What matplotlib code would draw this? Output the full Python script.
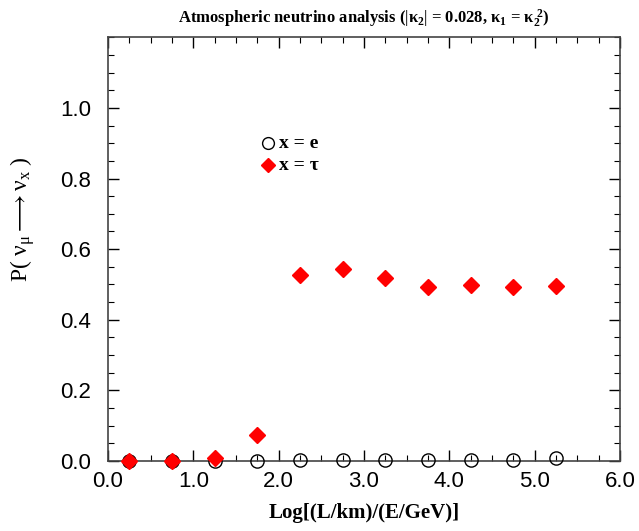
import matplotlib
matplotlib.use("Agg")
import matplotlib.pyplot as plt
from matplotlib.ticker import MultipleLocator, FormatStrFormatter

x_vals = [0.25, 0.75, 1.25, 1.75, 2.25, 2.75, 3.25, 3.75, 4.25, 4.75, 5.25]
p_e = [0.0, 0.0, 0.0, 0.0, 0.003, 0.003, 0.003, 0.003, 0.003, 0.003, 0.008]
p_tau = [0.0, 0.0, 0.007, 0.072, 0.527, 0.543, 0.518, 0.493, 0.497, 0.493, 0.495]
legend_labels = ["x = e", "x = τ"]

plt.rcParams["mathtext.fontset"] = "custom"
plt.rcParams["mathtext.rm"] = "Liberation Serif"
plt.rcParams["mathtext.it"] = "Liberation Serif:italic"
plt.rcParams["mathtext.bf"] = "Liberation Serif:bold"

fig = plt.figure(figsize=(6.39, 5.31), dpi=100)
ax = fig.add_axes([0.169, 0.132, 0.801, 0.7976])

ax.plot(x_vals, p_e, linestyle="none", marker="o", markersize=9.5,
        markerfacecolor="none", markeredgecolor="black", markeredgewidth=1.0,
        zorder=4, clip_on=False)
ax.plot(x_vals, p_tau, linestyle="none", marker="D", markersize=8,
        color="red", markeredgecolor="red", zorder=5, clip_on=False)

ax.set_xlim(0, 6)
ax.set_ylim(0, 1.2)
ax.xaxis.set_major_locator(MultipleLocator(1.0))
ax.xaxis.set_minor_locator(MultipleLocator(0.25))
ax.set_yticks([0.0, 0.2, 0.4, 0.6, 0.8, 1.0])
ax.yaxis.set_minor_locator(MultipleLocator(0.05))
ax.set_ylim(0, 1.2)
ax.xaxis.set_major_formatter(FormatStrFormatter("%.1f"))
ax.yaxis.set_major_formatter(FormatStrFormatter("%.1f"))
ax.tick_params(which="both", direction="in", top=True, right=True)
ax.tick_params(which="major", length=8, width=1.0, labelsize=16)
ax.tick_params(axis="y", which="major", pad=12)
ax.tick_params(axis="x", which="major", pad=7)
ax.tick_params(which="minor", length=4, width=0.8)
for lab in ax.get_xticklabels() + ax.get_yticklabels():
    lab.set_family("Liberation Sans")
for s in ax.spines.values():
    s.set_linewidth(1.2)
    s.set_color("#444444")

ax.set_xlabel("Log[(L/km)/(E/GeV)]", fontsize=15, fontweight="bold",
              family="Liberation Serif", labelpad=8)
ax.set_ylabel(r"P( $\mathrm{\nu_{\mu}} \longrightarrow \mathrm{\nu_{x}}$ )", fontsize=17,
              family="Liberation Serif")
ax.yaxis.set_label_coords(-0.138, 0.571)
ax.set_title(r"Atmospheric neutrino analysis ($|\mathbf{\kappa_2}|$ = 0.028, $\mathbf{\kappa_1}$ = $\mathbf{\kappa_2^{\ 2}}$)",
             fontsize=12, fontweight="bold", family="Liberation Serif", pad=10)

# legend
lx, ly = 1.88, [0.90, 0.838]
ax.plot([lx], [ly[0]], linestyle="none", marker="o", markersize=8.5,
        markerfacecolor="none", markeredgecolor="black", markeredgewidth=1.0)
ax.plot([lx], [ly[1]], linestyle="none", marker="D", markersize=7.5, color="red")
for yy, txt in zip(ly, legend_labels):
    ax.text(lx + 0.12, yy, txt, fontsize=14, fontweight="bold",
            family="Liberation Serif", va="center")

fig.savefig("out.png", dpi=100)
